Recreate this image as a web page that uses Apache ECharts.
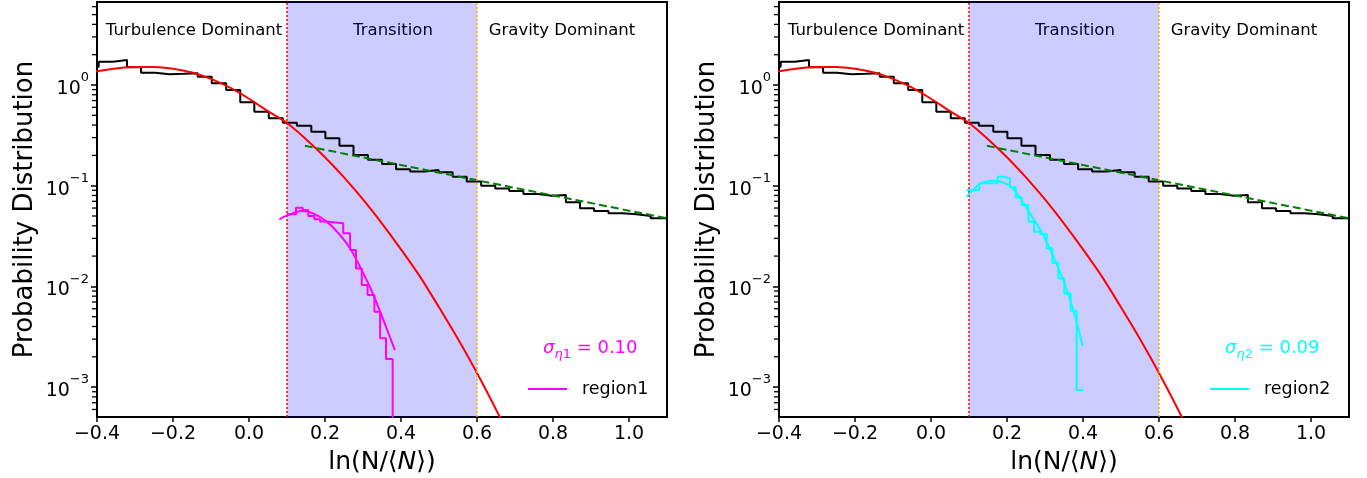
<!DOCTYPE html>
<html>
<head>
<meta charset="utf-8">
<script src="https://cdn.jsdelivr.net/npm/echarts@6.0.0/dist/echarts.min.js"></script>
<style>
  html, body { margin: 0; padding: 0; background: #fff; }
  #chart { width: 1367px; height: 478px; }
</style>
</head>
<body>
<div id="chart"></div>
<script>
// whole-map histogram: bin edges and heights (same in both panels)
const histEdges = [-0.433, -0.3955, -0.358, -0.321, -0.284, -0.247, -0.209, -0.172, -0.135, -0.098,
  -0.060, -0.023, 0.014, 0.052, 0.089, 0.126, 0.164, 0.201, 0.238, 0.275,
  0.313, 0.350, 0.387, 0.424, 0.462, 0.499, 0.536, 0.573, 0.611, 0.648,
  0.685, 0.722, 0.760, 0.797, 0.834, 0.871, 0.908, 0.946, 0.983, 1.020,
  1.057, 1.095, 1.132];
const histValues = [1.52, 1.70, 1.77, 1.50, 1.32, 1.28, 1.29, 1.31, 1.21, 1.04,
  0.89, 0.673, 0.543, 0.467, 0.422, 0.394, 0.344, 0.296, 0.250, 0.202,
  0.181, 0.164, 0.146, 0.138, 0.143, 0.136, 0.123, 0.110, 0.100, 0.094,
  0.0886, 0.0827, 0.0795, 0.0809, 0.0684, 0.0596, 0.0561, 0.0532, 0.052, 0.050,
  0.0475, 0.0456];

// lognormal fit (red)
const fitX = [-0.45, -0.40, -0.35, -0.30, -0.25, -0.20, -0.15, -0.10, -0.05, 0.00, 0.05, 0.10,
  0.15, 0.20, 0.25, 0.30, 0.35, 0.40, 0.45, 0.50, 0.55, 0.60, 0.65, 0.70];
const fitY = [1.25, 1.37, 1.46, 1.51, 1.51, 1.45, 1.33, 1.15, 0.94, 0.73, 0.55, 0.42,
  0.29, 0.192, 0.121, 0.073, 0.042, 0.0233, 0.0125, 0.0062, 0.0030, 0.00138, 0.0006, 0.00025];

// power-law tail (green dashed)
const tailX = [0.147, 1.1];
const tailY = [0.249, 0.0475];

// region1
const region1Edges = [0.0992, 0.1237, 0.1413, 0.156, 0.172, 0.187, 0.2026, 0.248, 0.266, 0.2816,
  0.2966, 0.312, 0.33, 0.345, 0.3605, 0.378, 0.394];
const region1Values = [0.052, 0.0605, 0.0574, 0.050, 0.0464, 0.044, 0.0423, 0.0337, 0.023, 0.0151,
  0.0103, 0.0082, 0.0056, 0.00305, 0.0019, 0.0001];
const region1FitX = [0.0798, 0.099, 0.1387, 0.169, 0.2045, 0.2395, 0.2658, 0.292, 0.318, 0.340, 0.362, 0.384];
const region1FitY = [0.0464, 0.0504, 0.0561, 0.0532, 0.044, 0.0324, 0.0239, 0.0157, 0.00993, 0.0063, 0.00384, 0.00233];

// region2
const region2Edges = [0.0939, 0.1272, 0.1754, 0.1921, 0.2079, 0.2228, 0.2386, 0.2561, 0.2711, 0.2868,
  0.3044, 0.3193, 0.3351, 0.3509, 0.3675, 0.3833, 0.4009];
const region2Values = [0.0906, 0.1057, 0.123, 0.118, 0.0964, 0.0767, 0.0643, 0.044, 0.0349, 0.0331,
  0.0239, 0.0172, 0.012, 0.0085, 0.00574, 0.000935];
const region2FitX = [0.094, 0.129, 0.164, 0.199, 0.2255, 0.2605, 0.2955, 0.3218, 0.348, 0.3745, 0.399];
const region2FitY = [0.0778, 0.104, 0.112, 0.104, 0.084, 0.0532, 0.0324, 0.0197, 0.0116, 0.00583, 0.00256];

const xTicks = [-0.4, -0.2, 0.0, 0.2, 0.4, 0.6, 0.8, 1.0];
const yTicks = [0.001, 0.01, 0.1, 1];
const bounds = [0.1, 0.6];

const FONT = 'DejaVu Sans';
const xMin = -0.4, xMax = 1.1;
const yMin = 5.05e-4, yMax = 6.67;

function stepData(edges, values) {
  const pts = values.map((v, i) => [edges[i], v]);
  pts.push([edges[edges.length - 1], values[values.length - 1]]);
  return pts;
}
function pairs(xs, ys) {
  return xs.map((x, i) => [x, ys[i]]);
}

// minor log ticks 2..9 x 10^k
const minorTicks = [];
for (let k = -4; k <= 0; k++) {
  for (let m = 2; m <= 9; m++) {
    const v = m * Math.pow(10, k);
    if (v > yMin && v < yMax) minorTicks.push(v);
  }
}

const panels = [
  { left: 97, color: '#ff00ff', name: 'region1', edges: region1Edges, values: region1Values,
    fx: region1FitX, fy: region1FitY, sub: '1', sigma: '0.10' },
  { left: 779, color: '#00ffff', name: 'region2', edges: region2Edges, values: region2Values,
    fx: region2FitX, fy: region2FitY, sub: '2', sigma: '0.09' }
];

const chart = echarts.init(document.getElementById('chart'));

const grid = panels.map(p => ({
  left: p.left, top: 2, width: 570, height: 415,
  show: true, borderColor: '#000', borderWidth: 2, backgroundColor: 'transparent',
  outerBoundsMode: 'none'
}));

const xAxis = panels.map((p, i) => ({
  type: 'value', gridIndex: i, min: xMin, max: xMax,
  axisLine: { onZero: false, lineStyle: { color: '#000', width: 2 } },
  axisTick: { customValues: xTicks, length: 5, lineStyle: { color: '#000', width: 1.5 } },
  axisLabel: {
    customValues: xTicks, color: '#000', fontSize: 19, fontFamily: FONT, margin: 8,
    formatter: v => v.toFixed(1).replace('-', '\u2212')
  },
  splitLine: { show: false },
  name: 'ln(N/\u27e8{i|N}\u27e9)', nameLocation: 'middle', nameGap: 33,
  nameTextStyle: {
    color: '#000', fontSize: 25, fontFamily: FONT,
    rich: { i: { fontStyle: 'italic', fontSize: 25, fontFamily: FONT, color: '#000' } }
  }
}));

const yAxis = panels.map((p, i) => ({
  type: 'log', gridIndex: i, min: yMin, max: yMax, logBase: 10, position: 'left',
  axisLine: { onZero: false, lineStyle: { color: '#000', width: 2 } },
  axisTick: { customValues: yTicks, length: 6, lineStyle: { color: '#000', width: 1.5 } },
  axisLabel: {
    customValues: yTicks, margin: 8,
    formatter: v => {
      const e = Math.round(Math.log10(v));
      return '{b|10}{s|' + String(e).replace('-', '\u2212') + '}';
    },
    rich: {
      b: { fontSize: 19, fontFamily: FONT, color: '#000', lineHeight: 27, verticalAlign: 'bottom' },
      s: { fontSize: 13, fontFamily: FONT, color: '#000', lineHeight: 12, verticalAlign: 'top' }
    }
  },
  splitLine: { show: false },
  name: 'Probability Distribution', nameLocation: 'middle', nameGap: 59, nameRotate: 90,
  nameTextStyle: { color: '#000', fontSize: 26, fontFamily: FONT }
}));

const series = [];
panels.forEach((p, i) => {
  const ax = { xAxisIndex: i, yAxisIndex: i };
  // shaded transition band and its borders
  series.push(Object.assign({
    type: 'line', data: [], silent: true, z: 1,
    markArea: {
      silent: true,
      itemStyle: { color: 'rgba(0,0,255,0.2)' },
      data: [[{ xAxis: bounds[0] }, { xAxis: bounds[1] }]]
    },
    markLine: {
      silent: true, symbol: ['none', 'none'], label: { show: false },
      data: [
        { xAxis: bounds[0], lineStyle: { color: '#ff0000', type: [2, 2], width: 1.5 } },
        { xAxis: bounds[1], lineStyle: { color: '#ffa500', type: [2, 2], width: 1.5 } }
      ]
    }
  }, ax));
  // minor log ticks: short outward dashes on the left spine
  series.push(Object.assign({
    type: 'scatter', silent: true, clip: false, z: 6,
    symbol: 'rect', symbolSize: [4, 1.3], symbolOffset: [-3, 0],
    itemStyle: { color: '#000', opacity: 1 },
    data: minorTicks.map(v => [xMin, v])
  }, ax));
  series.push(Object.assign({
    type: 'line', name: 'all' + i, step: 'end', symbol: 'none', z: 3,
    lineStyle: { color: '#000', width: 2 }, itemStyle: { color: '#000' },
    data: stepData(histEdges, histValues)
  }, ax));
  series.push(Object.assign({
    type: 'line', name: 'fit' + i, smooth: 0.3, symbol: 'none', z: 4,
    lineStyle: { color: '#ff0000', width: 2 }, itemStyle: { color: '#ff0000' },
    data: pairs(fitX, fitY)
  }, ax));
  series.push(Object.assign({
    type: 'line', name: 'tail' + i, symbol: 'none', z: 4,
    lineStyle: { color: '#008000', width: 2, type: [8, 4] }, itemStyle: { color: '#008000' },
    data: pairs(tailX, tailY)
  }, ax));
  series.push(Object.assign({
    type: 'line', name: p.name, step: 'end', symbol: 'none', z: 5,
    lineStyle: { color: p.color, width: 2 }, itemStyle: { color: p.color },
    data: stepData(p.edges, p.values)
  }, ax));
  series.push(Object.assign({
    type: 'line', name: p.name + ' fit', smooth: 0.3, symbol: 'none', z: 5,
    lineStyle: { color: p.color, width: 2 }, itemStyle: { color: p.color },
    data: pairs(p.fx, p.fy)
  }, ax));
});

const legend = panels.map(p => ({
  data: [p.name], left: p.left + 431, top: 380, padding: 0,
  icon: 'rect', itemWidth: 39, itemHeight: 2, selectedMode: false,
  textStyle: { fontSize: 17.5, fontFamily: FONT, color: '#000', padding: [0, 0, 0, 10] }
}));

const graphic = [];
panels.forEach(p => {
  const dx = p.left - 97;
  [['Turbulence Dominant', 194], ['Transition', 393], ['Gravity Dominant', 562]].forEach(t => {
    graphic.push({
      type: 'text', x: t[1] + dx, y: 31, silent: true,
      style: { text: t[0], fill: '#000', fontSize: 16.5, fontFamily: FONT, align: 'center', verticalAlign: 'middle' }
    });
  });
  graphic.push({
    type: 'text', x: 543 + dx, y: 350, silent: true,
    style: {
      text: '{g|\u03c3}{e|\u03b7}{d|' + p.sub + '}{t| = ' + p.sigma + '}',
      verticalAlign: 'middle', align: 'left',
      rich: {
        g: { fontSize: 18, fontStyle: 'italic', fontFamily: FONT, fill: p.color, lineHeight: 22, verticalAlign: 'top' },
        e: { fontSize: 13, fontStyle: 'italic', fontFamily: FONT, fill: p.color, lineHeight: 12, verticalAlign: 'bottom' },
        d: { fontSize: 13, fontFamily: FONT, fill: p.color, lineHeight: 12, verticalAlign: 'bottom' },
        t: { fontSize: 18, fontFamily: FONT, fill: p.color, lineHeight: 22, verticalAlign: 'top' }
      }
    }
  });
});

chart.setOption({
  animation: false,
  textStyle: { fontFamily: FONT },
  grid: grid,
  xAxis: xAxis,
  yAxis: yAxis,
  legend: legend,
  graphic: graphic,
  series: series
});
</script>
</body>
</html>
